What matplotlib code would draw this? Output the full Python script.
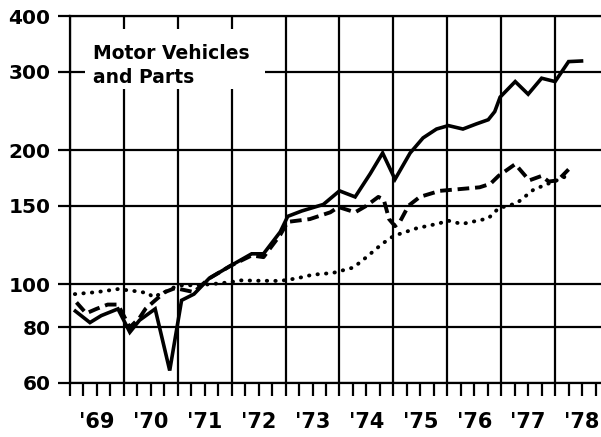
import numpy as np
import matplotlib.pyplot as plt
from matplotlib.patches import Rectangle

# motor vehicles and parts, index values (log scale)
solid_t = [1969.10, 1969.37, 1969.58, 1969.89, 1970.11, 1970.29, 1970.58, 1970.85,
           1971.07, 1971.30, 1971.58, 1971.98, 1972.37, 1972.59, 1972.90, 1973.04,
           1973.30, 1973.70, 1974.00, 1974.29, 1974.57, 1974.80, 1975.03, 1975.31,
           1975.55, 1975.80, 1976.02, 1976.29, 1976.54, 1976.76, 1976.88, 1976.98,
           1977.26, 1977.50, 1977.75, 1978.00, 1978.25, 1978.49]
solid_v = [87, 82, 85, 88, 78, 83, 88, 64,
           92, 95, 103, 110, 117, 117, 131, 142,
           146, 151, 162, 157, 177, 197, 172, 197,
           213, 223, 227, 223, 229, 234, 244, 263,
           285, 267, 290, 285, 316, 317]

dashed_t = [1969.12, 1969.30, 1969.49, 1969.70, 1969.89, 1970.11, 1970.29, 1970.40,
            1970.58, 1970.76, 1970.95, 1971.30, 1971.58, 1971.98, 1972.37, 1972.59,
            1972.90, 1973.04, 1973.45, 1973.83, 1973.98, 1974.29, 1974.50, 1974.72,
            1974.82, 1974.92, 1975.03, 1975.12, 1975.28, 1975.49, 1975.86, 1976.36,
            1976.60, 1976.80, 1976.95, 1977.26, 1977.52, 1977.75, 1977.88, 1978.05,
            1978.25]
dashed_v = [91, 86, 88, 90, 90, 80, 84, 88,
            92, 96, 98, 96, 103, 110, 116, 115,
            129, 138, 140, 145, 149, 145, 150, 157,
            155, 140, 135, 138, 150, 157, 162, 164,
            165, 168, 175, 186, 171, 175, 170, 171,
            181]

dotted_t = [1969.09, 1969.50, 1969.89, 1970.20, 1970.45, 1970.54, 1970.76, 1970.94,
            1971.07, 1971.40, 1971.72, 1971.97, 1972.15, 1972.50, 1972.90, 1973.20,
            1973.50, 1973.88, 1974.26, 1974.50, 1974.75, 1974.94, 1975.06, 1975.43,
            1975.86, 1976.00, 1976.27, 1976.76, 1976.95, 1977.29, 1977.60, 1977.97,
            1978.15, 1978.25]
dotted_v = [95, 96, 97.5, 96.5, 95.5, 93.5, 96, 98.5,
            99.4, 99.5, 100.3, 101, 102, 101.8, 101.7, 103,
            105, 106, 109, 115, 122, 127, 129, 133.5,
            137, 139, 136.5, 140.5, 148, 152, 163, 170,
            173, 178]

yticks = [60, 80, 100, 150, 200, 300, 400]
years = list(range(1969, 1979))
year_labels = ["'69", "'70", "'71", "'72", "'73", "'74", "'75", "'76", "'77", "'78"]

fig = plt.figure(figsize=(6.01, 4.37), dpi=100)
ax = fig.add_axes([70/601, 1 - 383/437, 1 - 70/601, 367/437])

ax.plot(solid_t, solid_v, color='black', lw=2.6, solid_joinstyle='miter', zorder=3)
ax.plot(dashed_t, dashed_v, color='black', lw=2.8, linestyle=(0, (3, 1.5)), zorder=3)
ax.plot(dotted_t, dotted_v, color='black', lw=2.8, linestyle=(0, (0.1, 2.1)),
        dash_capstyle='round', zorder=3)

ax.set_yscale('log')
ax.set_ylim(60, 400)
ax.set_xlim(1969, 1969 + 531/53.9)

ax.set_yticks(yticks)
ax.set_yticklabels([str(v) for v in yticks])
ax.yaxis.set_minor_locator(plt.NullLocator())

ax.set_xticks(years)
ax.set_xticklabels([''] * len(years))
quarters = []
qlabels = []
for i, y in enumerate(years):
    quarters += [y + 0.25, y + 0.5, y + 0.75]
    qlabels += ['', year_labels[i], '']
ax.set_xticks(quarters, minor=True)
ax.set_xticklabels(qlabels, minor=True)

ax.grid(True, which='major', color='black', lw=1.6)
ax.set_axisbelow(True)

ax.tick_params(axis='x', which='both', direction='out', length=9, width=1.6,
               pad=12, labelsize=15)
ax.tick_params(axis='y', which='major', direction='out', length=9, width=1.6,
               pad=5, labelsize=14.5)
for lab in ax.get_xticklabels(minor=True) + ax.get_yticklabels():
    lab.set_fontweight('bold')

for s in ['left', 'bottom', 'top']:
    ax.spines[s].set_linewidth(1.6)
ax.spines['right'].set_visible(False)

# white box behind the caption
ax.add_patch(Rectangle((0.028, 0.80), 0.34, 0.165, transform=ax.transAxes,
                       facecolor='white', edgecolor='none', zorder=1.5))
ax.text(0.043, 0.925, 'Motor Vehicles\nand Parts', transform=ax.transAxes,
        fontsize=13.5, fontweight='bold', va='top', ha='left', linespacing=1.35,
        zorder=4)

fig.savefig('out.png', dpi=100)
